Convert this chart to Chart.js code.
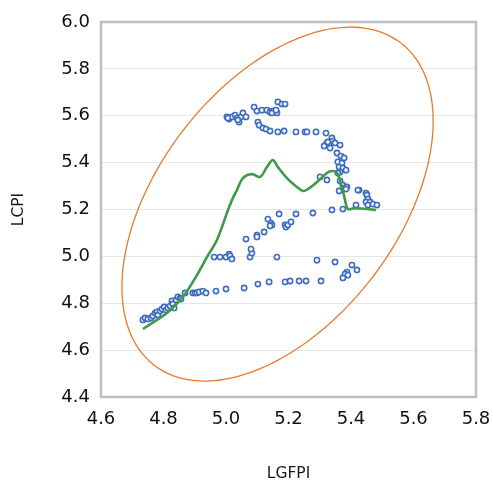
<!DOCTYPE html>
<html>
<head>
<meta charset="utf-8">
<script src="https://cdn.jsdelivr.net/npm/chart.js@4.4.1/dist/chart.umd.min.js"></script>
<style>
  html, body { margin: 0; padding: 0; background: #fff; }
  canvas { display: block; }
</style>
</head>
<body>
<canvas id="chart" width="493" height="486"></canvas>
<script>
const LGFPI = [
  4.734, 4.741, 4.750, 4.760, 4.766, 4.773, 4.779, 4.782, 4.789, 4.795, 4.802,
  4.808, 4.814, 4.821, 4.827, 4.830, 4.834, 4.840, 4.846, 4.853, 4.856,
  4.869, 4.894, 4.901, 4.907, 4.914, 4.926, 4.936, 4.968, 5.000, 5.058, 5.102,
  5.138, 5.189, 5.205, 5.234, 5.256, 5.304,
  5.291, 5.349, 5.403, 5.419, 5.387, 5.381, 5.390, 5.374,
  4.962, 4.981, 5.000, 5.010, 5.013, 5.019, 5.077, 5.083, 5.080, 5.163,
  5.064, 5.099, 5.099, 5.122, 5.134, 5.144, 5.147, 5.141, 5.170, 5.189, 5.192,
  5.198, 5.208, 5.224,
  5.278, 5.339, 5.374,
  5.426, 5.448, 5.451, 5.454, 5.448, 5.461, 5.454, 5.470, 5.483, 5.416,
  5.301, 5.323, 5.365, 5.374, 5.381, 5.387, 5.362, 5.384, 5.422,
  5.355, 5.368, 5.378, 5.358, 5.371, 5.362, 5.374, 5.384, 5.365, 5.358,
  5.339, 5.342, 5.323, 5.314, 5.330, 5.333, 5.349, 5.365, 5.326,
  5.102, 5.106, 5.118, 5.128, 5.141, 5.166, 5.186, 5.224, 5.253, 5.259, 5.288, 5.320,
  5.090, 5.099, 5.115, 5.131, 5.141, 5.150, 5.163, 5.166, 5.179, 5.189, 5.147, 5.160,
  5.003, 5.010, 5.019, 5.029, 5.035, 5.042, 5.048, 5.054, 5.064, 5.038, 5.006,
];
const LCPI = [
  4.729, 4.737, 4.733, 4.737, 4.746, 4.758, 4.763, 4.750, 4.767, 4.775, 4.784,
  4.771, 4.780, 4.788, 4.810, 4.797, 4.780, 4.814, 4.827, 4.822, 4.818,
  4.844, 4.844, 4.844, 4.844, 4.848, 4.852, 4.844, 4.852, 4.861, 4.865, 4.882,
  4.891, 4.891, 4.895, 4.895, 4.895, 4.895,
  4.984, 4.976, 4.963, 4.942, 4.933, 4.925, 4.920, 4.908,
  4.997, 4.997, 4.997, 5.010, 5.002, 4.989, 4.997, 5.014, 5.031, 4.997,
  5.074, 5.091, 5.083, 5.104, 5.159, 5.142, 5.134, 5.130, 5.181, 5.134, 5.125,
  5.134, 5.147, 5.181,
  5.185, 5.198, 5.202,
  5.283, 5.270, 5.262, 5.245, 5.232, 5.232, 5.219, 5.223, 5.219, 5.219,
  5.339, 5.326, 5.322, 5.304, 5.292, 5.296, 5.279, 5.287, 5.283,
  5.441, 5.428, 5.420, 5.403, 5.398, 5.381, 5.377, 5.368, 5.360, 5.356,
  5.505, 5.492, 5.484, 5.471, 5.475, 5.462, 5.484, 5.475, 5.488,
  5.573, 5.560, 5.548, 5.543, 5.535, 5.531, 5.535, 5.531, 5.531, 5.531, 5.531, 5.526,
  5.637, 5.620, 5.624, 5.624, 5.616, 5.620, 5.612, 5.659, 5.650, 5.650, 5.612, 5.624,
  5.595, 5.586, 5.595, 5.603, 5.590, 5.573, 5.595, 5.612, 5.595, 5.582, 5.590,
];

// green trend line
const TREND_X = [
  4.734, 4.773, 4.811, 4.862, 4.907, 4.939, 4.971, 5.003, 5.019, 5.035, 5.054,
  5.083, 5.109, 5.131, 5.150, 5.166, 5.195, 5.227, 5.246, 5.262, 5.291, 5.323,
  5.339, 5.355, 5.371, 5.381, 5.390, 5.413, 5.451, 5.480,
];
const TREND_Y = [
  4.690, 4.724, 4.758, 4.827, 4.920, 4.997, 5.070, 5.185, 5.240, 5.283, 5.334,
  5.351, 5.339, 5.381, 5.411, 5.381, 5.334, 5.296, 5.279, 5.287, 5.317, 5.356,
  5.364, 5.356, 5.296, 5.240, 5.202, 5.206, 5.202, 5.198,
];

// orange ellipse: centre, half-extents along x and y, phase of y against x (deg)
const ELLIPSE_CENTER = [5.165, 5.223];
const ELLIPSE_RADII = [0.498, 0.755];
const ELLIPSE_PHASE = 62;

const X_TICKS = [4.6, 4.8, 5.0, 5.2, 5.4, 5.6, 5.8];
const Y_TICKS = [4.4, 4.6, 4.8, 5.0, 5.2, 5.4, 5.6, 5.8, 6.0];

const FONT = "'DejaVu Sans', sans-serif";

const ellipsePoints = [];
for (let i = 0; i <= 120; i++) {
  const t = (i / 120) * 2 * Math.PI;
  ellipsePoints.push({
    x: ELLIPSE_CENTER[0] + ELLIPSE_RADII[0] * Math.cos(t),
    y: ELLIPSE_CENTER[1] + ELLIPSE_RADII[1] * Math.cos(t - ELLIPSE_PHASE * Math.PI / 180),
  });
}

const framePlugin = {
  id: "frame",
  beforeDatasetsDraw(chart) {
    const { ctx, chartArea: a } = chart;
    ctx.save();
    ctx.strokeStyle = "#bfbfbf";
    ctx.lineWidth = 2.5;
    ctx.strokeRect(a.left, a.top, a.right - a.left, a.bottom - a.top);
    ctx.restore();
  },
};

new Chart(document.getElementById("chart"), {
  type: "scatter",
  data: {
    datasets: [
      {
        label: "ellipse",
        data: ellipsePoints,
        showLine: true,
        borderColor: "#e47c2e",
        borderWidth: 1.3,
        pointRadius: 0,
        // a little tension keeps Chart.js off its per-pixel fast path
        tension: 0.2,
      },
      {
        label: "trend",
        data: TREND_X.map((x, i) => ({ x, y: TREND_Y[i] })),
        showLine: true,
        borderColor: "#3f9a4a",
        borderWidth: 2.6,
        pointRadius: 0,
        tension: 0.35,
      },
      {
        label: "LCPI",
        data: LGFPI.map((x, i) => ({ x, y: LCPI[i] })),
        pointRadius: 2.6,
        pointBorderWidth: 1.6,
        borderColor: "#3d6cbc",
        backgroundColor: "#ffffff",
      },
    ],
  },
  options: {
    responsive: false,
    animation: false,
    devicePixelRatio: 1,
    layout: { padding: { top: 22, right: 17, left: 0, bottom: 0 } },
    plugins: {
      legend: { display: false },
      tooltip: { enabled: false },
      title: { display: false },
    },
    scales: {
      x: {
        type: "linear",
        min: X_TICKS[0],
        max: X_TICKS[X_TICKS.length - 1],
        afterBuildTicks: (s) => { s.ticks = X_TICKS.map((v) => ({ value: v })); },
        afterFit: (s) => {
          s.height = 89;
          s.paddingLeft = 0;
          s.paddingRight = 0;
        },
        grid: { display: false, drawTicks: false },
        border: { display: false },
        ticks: {
          padding: 12,
          color: "#111",
          font: { family: FONT, size: 18 },
          callback: (v) => Number(v).toFixed(1),
        },
        title: {
          display: true,
          text: "LGFPI",
          color: "#1a1a1a",
          font: { family: FONT, size: 15.5 },
          padding: { top: 0, bottom: 3 },
        },
      },
      y: {
        type: "linear",
        min: Y_TICKS[0],
        max: Y_TICKS[Y_TICKS.length - 1],
        afterBuildTicks: (s) => { s.ticks = Y_TICKS.map((v) => ({ value: v })); },
        afterFit: (s) => {
          s.width = 101;
          s.paddingTop = 0;
          s.paddingBottom = 0;
        },
        grid: { color: "#e6e6e6", lineWidth: 1, drawTicks: false },
        border: { display: false },
        ticks: {
          padding: 11,
          color: "#111",
          font: { family: FONT, size: 18 },
          callback: (v) => Number(v).toFixed(1),
        },
        title: {
          display: true,
          text: "LCPI",
          color: "#1a1a1a",
          font: { family: FONT, size: 15.5 },
          padding: { top: 10, bottom: 0 },
        },
      },
    },
  },
  plugins: [framePlugin],
});
</script>
</body>
</html>
